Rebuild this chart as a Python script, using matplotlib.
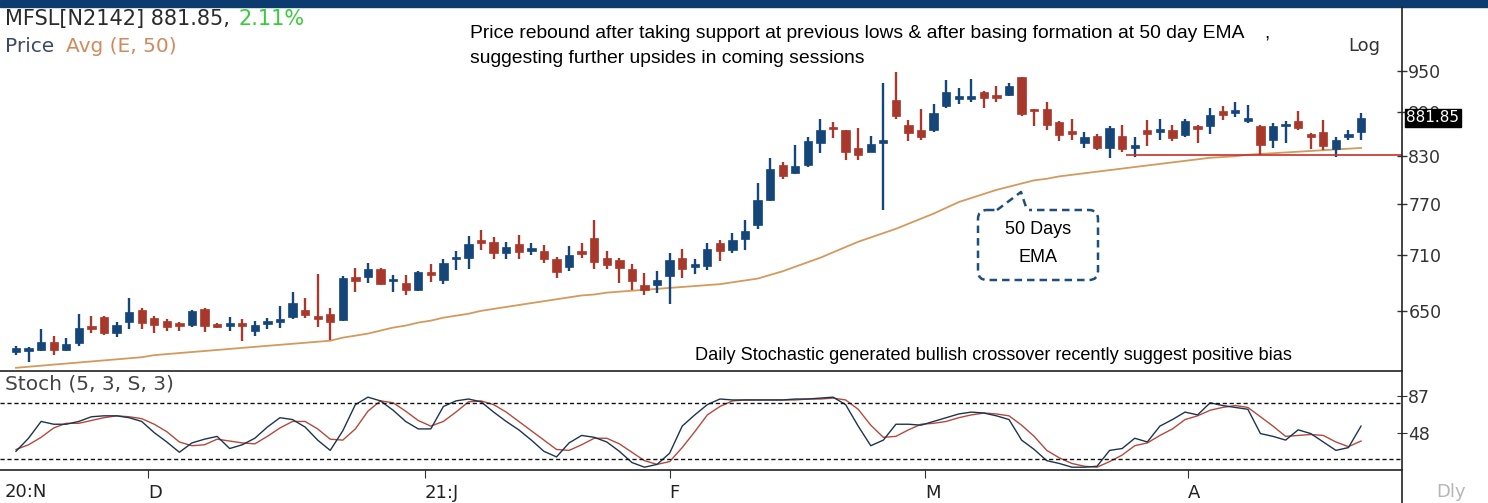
import matplotlib
matplotlib.use("Agg")
import matplotlib.pyplot as plt
import numpy as np
from matplotlib.patches import Rectangle, FancyBboxPatch
from matplotlib.ticker import NullLocator

# daily candles, oldest first
opens = [609, 610, 611, 619, 611, 618, 635, 644, 628, 639, 651, 643, 640, 638, 636, 652, 635, 635, 638, 630,
         637, 639, 644, 651, 644, 647, 641, 686, 686, 695, 681, 679, 672, 691, 683, 705, 707, 726, 725, 712,
         722, 714, 715, 706, 697, 715, 729, 707, 704, 695, 677, 677, 687, 707, 697, 698, 724, 716, 728, 745,
         774, 819, 808, 818, 848, 869, 865, 841, 836, 848, 907, 872, 865, 865, 898, 909, 909, 919, 915, 915,
         941, 894, 895, 876, 863, 848, 857, 841, 857, 841, 865, 862, 865, 858, 871, 870, 892, 889, 878, 871,
         851, 870, 877, 860, 862, 839, 856, 863]
highs = [615, 614, 632, 625, 623, 647, 645, 645, 639, 663, 653, 645, 642, 639, 651, 653, 638, 644, 642, 640,
         643, 655, 670, 663, 689, 653, 687, 696, 701, 696, 688, 688, 692, 700, 705, 714, 732, 739, 731, 725,
         733, 724, 721, 708, 720, 724, 750, 714, 707, 700, 690, 692, 712, 717, 706, 724, 727, 735, 750, 796,
         828, 822, 845, 855, 881, 876, 865, 868, 857, 932, 948, 879, 894, 902, 936, 925, 938, 920, 927, 932,
         941, 894, 904, 877, 880, 863, 860, 871, 872, 856, 879, 881, 872, 880, 872, 896, 899, 905, 900, 872,
         875, 877, 891, 861, 879, 856, 865, 889]
lows = [606, 599, 610, 606, 610, 615, 628, 626, 624, 632, 632, 628, 630, 630, 634, 629, 633, 630, 620, 625,
        632, 633, 642, 643, 634, 621, 640, 670, 679, 677, 670, 667, 671, 680, 678, 693, 694, 716, 706, 705,
        705, 710, 701, 685, 692, 707, 694, 694, 679, 672, 667, 669, 657, 685, 689, 693, 703, 712, 716, 740,
        773, 801, 807, 816, 834, 854, 825, 825, 835, 762, 880, 850, 852, 863, 896, 901, 904, 896, 904, 913,
        884, 870, 865, 850, 852, 841, 838, 828, 836, 829, 844, 852, 850, 856, 848, 860, 879, 883, 875, 832,
        841, 848, 865, 839, 838, 829, 851, 852]
closes = [613, 611, 619, 611, 617, 633, 632, 628, 636, 649, 638, 636, 634, 635, 650, 635, 634, 638, 635, 636,
          639, 641, 658, 646, 642, 639, 685, 681, 694, 678, 683, 672, 691, 688, 701, 707, 722, 724, 712, 719,
          713, 718, 705, 691, 710, 711, 702, 699, 696, 681, 672, 682, 704, 694, 699, 717, 714, 727, 737, 774,
          813, 805, 817, 850, 865, 866, 836, 832, 846, 850, 884, 861, 856, 889, 919, 911, 913, 910, 910, 927,
          888, 891, 872, 858, 860, 856, 841, 868, 839, 844, 860, 865, 854, 878, 867, 886, 886, 892, 881, 845,
          871, 872, 868, 856, 844, 852, 860, 881.85]

# 50 day exponential average
ema50 = [594, 595, 596, 597, 598, 599, 600, 601, 602, 603, 604, 606, 607, 608, 609, 610, 611, 612, 613, 614,
         615, 616, 617, 618, 619, 620, 623, 625, 627, 630, 633, 635, 638, 640, 643, 645, 647, 650, 652, 654,
         656, 658, 660, 662, 664, 666, 667, 669, 670, 671, 672, 673, 674, 675, 676, 677, 678, 680, 682, 684,
         688, 692, 697, 702, 707, 713, 719, 725, 730, 735, 740, 746, 752, 758, 765, 772, 777, 782, 787, 791,
         795, 799, 801, 804, 806, 808, 810, 812, 814, 816, 818, 820, 822, 824, 826, 828, 829, 830, 832, 833,
         834, 835, 836, 837, 838, 839, 840, 841]

# stochastic (5,3,S,3)
stoch_k = [28, 42, 60, 57, 57, 60, 65, 66, 66, 64, 60, 48, 38, 27, 37, 41, 44, 31, 35, 42,
           54, 64, 62, 54, 40, 29, 50, 78, 86, 82, 72, 60, 52, 52, 76, 82, 84, 81, 70, 60,
           51, 40, 28, 22, 37, 45, 43, 38, 28, 16, 11, 14, 26, 55, 67, 78, 84, 83, 83, 83,
           83, 83, 84, 84, 85, 86, 78, 55, 34, 40, 57, 57, 56, 60, 64, 68, 70, 69, 66, 62,
           40, 30, 18, 15, 11, 11, 12, 29, 31, 42, 38, 55, 62, 70, 67, 80, 77, 75, 73, 47,
           44, 40, 51, 47, 38, 29, 32, 55]
stoch_d = [30, 35, 43, 53, 58, 58, 61, 64, 66, 65, 63, 57, 49, 38, 34, 35, 41, 39, 37, 36,
           44, 53, 60, 60, 52, 41, 40, 52, 71, 82, 80, 71, 61, 55, 60, 70, 81, 82, 78, 70,
           60, 50, 40, 30, 29, 35, 42, 42, 36, 27, 18, 14, 17, 32, 49, 67, 76, 82, 83, 83,
           83, 83, 83, 84, 84, 85, 83, 73, 56, 43, 44, 51, 57, 58, 60, 64, 67, 69, 68, 66,
           56, 44, 29, 21, 15, 12, 11, 17, 24, 34, 37, 45, 52, 62, 66, 72, 75, 77, 75, 65,
           55, 44, 45, 46, 45, 38, 33, 39]

month_pos = [10.5, 32.5, 52.0, 72.3, 93.2]
month_labels = ["D", "21:J", "F", "M", "A"]
price_ticks = [650, 710, 770, 830, 890, 950]
support = 831

blue = "#15467a"
red = "#a8382c"

W, H = 1488, 503
fig = plt.figure(figsize=(W / 100, H / 100), dpi=100)
fig.patch.set_facecolor("white")

x = np.arange(len(closes))
xlim = (-1.27, 110.26)

# ---- price panel
ax = fig.add_axes([0, 1 - 371 / H, 1402 / W, (371 - 10) / H])
ax.set_yscale("log")
ax.set_xlim(*xlim)
ax.set_ylim(591, 1046)
for s in ["left", "top", "bottom", "right"]:
    ax.spines[s].set_visible(False)
ax.set_xticks([])
ax.yaxis.tick_right()
ax.yaxis.set_minor_locator(NullLocator())
ax.set_yticks(price_ticks)
ax.set_yticklabels([str(t) for t in price_ticks])
ax.tick_params(axis="y", direction="inout", length=7, width=1, color="#333",
               labelsize=12.5, labelcolor="#333", pad=1)

o = np.array(opens, float)
c = np.array(closes, float)
up = c >= o
cols = [blue if u else red for u in up]
top = np.maximum(o, c)
bot = np.minimum(o, c)
# keep doji bodies visible
top = np.where(top / bot < 1.0045, bot * 1.0045, top)
ax.vlines(x, lows, highs, colors=cols, lw=1.7, zorder=2)
ax.bar(x, top - bot, bottom=bot, width=0.66, color=cols, edgecolor=cols, lw=0.5, zorder=3)

ax.plot(x, ema50, color="#d39a5c", lw=1.3, zorder=1)
ax.hlines(support, 88.3, xlim[1], color="#c8302a", lw=1.2, zorder=4)

ax.text(1.003, closes[-1], "881.85", transform=ax.get_yaxis_transform(), color="white",
        fontsize=11, va="center", ha="left", clip_on=False, zorder=10,
        bbox=dict(facecolor="black", edgecolor="black", pad=1.2))

# ---- stochastic panel
ax2 = fig.add_axes([0, 1 - 470 / H, 1402 / W, (470 - 371) / H])
ax2.set_xlim(*xlim)
ax2.set_ylim(8, 114)
ax2.spines["left"].set_visible(False)
ax2.spines["right"].set_visible(False)
for s in ["top", "bottom"]:
    ax2.spines[s].set_color("#222")
    ax2.spines[s].set_linewidth(1.2)
ax2.plot(x, stoch_d, color="#b34a3c", lw=1.0)
ax2.plot(x, stoch_k, color="#1d3450", lw=1.0)
ax2.axhline(80, color="#111", lw=1, ls=(0, (3, 2)))
ax2.axhline(20, color="#111", lw=1, ls=(0, (3, 2)))
ax2.yaxis.tick_right()
ax2.set_yticks([48, 87])
ax2.set_yticklabels(["48", "87"])
ax2.tick_params(axis="y", direction="inout", length=7, color="#333", labelsize=12.5,
                labelcolor="#333", pad=1)
ax2.set_xticks(month_pos)
ax2.set_xticklabels(month_labels)
for t in ax2.get_xticklabels():
    t.set_horizontalalignment("left")
ax2.tick_params(axis="x", direction="out", length=6, color="#333", labelsize=13,
                labelcolor="#222", pad=4)

# ---- overlay for texts and decorations
ov = fig.add_axes([0, 0, 1, 1], facecolor="none")
ov.set_xlim(0, W)
ov.set_ylim(H, 0)
ov.axis("off")

ov.add_patch(Rectangle((0, 0), W, 7, color="#0b3b6f"))
ov.plot([1402, 1402], [7, H], color="#222", lw=1.2)

ov.text(5, 19, "MFSL[N2142] 881.85,", fontsize=15, color="#2a2a2a", va="center")
ov.text(238, 19, "2.11%", fontsize=15, color="#3acb3a", va="center")
ov.text(5, 46, "Price", fontsize=14.5, color="#3b4a68", va="center")
ov.text(66, 46, "Avg (E, 50)", fontsize=14.5, color="#d08a5e", va="center")
ov.text(1348, 46, "Log", fontsize=13, color="#333", va="center")
ov.text(5, 384, "Stoch (5, 3, S, 3)", fontsize=14.5, color="#444", va="center")
ov.text(5, 492, "20:N", fontsize=13, color="#222", va="center")
ov.text(1436, 492, "Dly", fontsize=13, color="#b5b5b5", va="center")

note_font = ["Liberation Sans", "DejaVu Sans"]
ov.text(470, 33, "Price rebound after taking support at previous lows & after basing formation at 50 day EMA    ,",
        fontsize=13.9, family=note_font, color="black", va="center")
ov.text(470, 58, "suggesting further upsides in coming sessions",
        fontsize=13.9, family=note_font, color="black", va="center")
ov.text(695, 355, "Daily Stochastic generated bullish crossover recently suggest positive bias",
        fontsize=13.1, family=note_font, color="black", va="center")

# callout
cb = "#1f4e79"
ov.add_patch(FancyBboxPatch((978, 210), 120, 70, boxstyle="round,pad=0,rounding_size=9",
                            fill=False, ec=cb, lw=1.8, ls=(0, (3, 2))))
ov.plot([997, 1027], [210, 210], color="white", lw=3, zorder=5)
ov.plot([997, 1021, 1027], [210, 192, 210], color=cb, lw=1.8, ls=(0, (3, 2)), zorder=6)
ov.text(1038, 229, "50 Days", fontsize=13, family=note_font, ha="center", va="center")
ov.text(1038, 257, "EMA", fontsize=13, family=note_font, ha="center", va="center")

fig.savefig("out.png", dpi=100)
